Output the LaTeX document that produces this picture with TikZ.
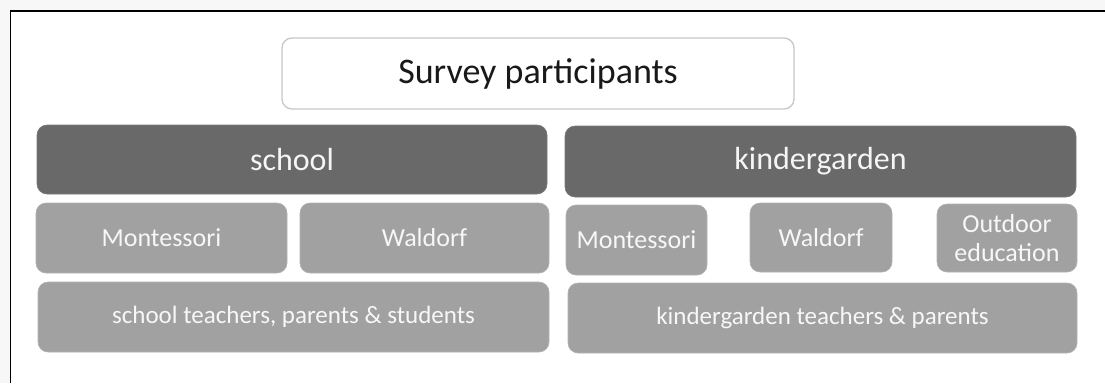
\documentclass[tikz,border=0pt]{standalone}
\usepackage{fontspec}
\setmainfont{Carlito}
\begin{document}
\begin{tikzpicture}[x=1pt,y=-1pt,
  base/.style={rounded corners=10pt, inner sep=0pt, align=center},
  titlebox/.style={base, fill=white, draw=black!22, line width=1.3pt,
    font=\fontsize{36}{40}\selectfont, text=black!90},
  groupbox/.style={base, fill=black!59, draw=black!52, line width=0.6pt,
    font=\fontsize{32}{36}\selectfont, text=black!4},
  itembox/.style={base, fill=black!37, draw=black!30, line width=0.6pt,
    font=\fontsize{25}{30}\selectfont, text=black!3},
  typebox/.style={itembox, font=\fontsize{26}{29.5}\selectfont},
  frame/.style={black, line width=1.4pt}]
  % page area and outer frame
  \fill[black!3] (0,0) rectangle (1105,383);
  \fill[white] (10.5,11) rectangle (1105,383);
  \useasboundingbox (0,0) rectangle (1105,383);
  \coordinate (fbl) at (10.5,383);
  \coordinate (ftl) at (10.5,11);
  \coordinate (ftr) at (1105,11);
  \draw[frame] (fbl) -- (ftl) -- (ftr);

  % title
  \node[titlebox, minimum width=512pt, minimum height=71pt] (title) at (538,73.5) {Survey participants};

  % school column
  \node[groupbox, minimum width=510pt, minimum height=69pt] (school) at (292,159.5) {school};
  \node[typebox, minimum width=251pt, minimum height=70pt] (sMont) at (161.5,238) {Montessori};
  \node[typebox, minimum width=249pt, minimum height=70pt] (sWald) at (424.5,238) {Waldorf};
  \node[itembox, minimum width=511pt, minimum height=70pt] (sPeople) at (293.5,317) {school teachers, parents \& students};

  % kindergarden column
  \node[groupbox, minimum width=511pt, minimum height=71pt] (kinder) at (820.5,161.5) {kindergarden};
  \node[typebox, minimum width=141pt, minimum height=70pt] (kMont) at (636.5,240) {Montessori};
  \node[typebox, minimum width=142pt, minimum height=69pt] (kWald) at (821,237.5) {Waldorf};
  \node[typebox, minimum width=140pt, minimum height=68pt] (kOut) at (1007,238) {Outdoor\\education};
  \node[itembox, minimum width=509pt, minimum height=70pt] (kPeople) at (822.5,318) {kindergarden teachers \& parents};
\end{tikzpicture}
\end{document}
